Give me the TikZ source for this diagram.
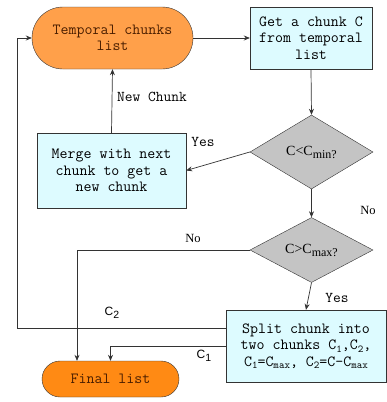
\documentclass[tikz,border=0pt]{standalone}
\usepackage{fontspec}
\newfontfamily\serifA{Liberation Serif}
\newfontfamily\sansA{Liberation Sans}
\usetikzlibrary{shapes.misc,shapes.geometric,arrows.meta}
\definecolor{orA}{HTML}{FFA04A}
\definecolor{orB}{HTML}{FF8A14}
\definecolor{cyanA}{HTML}{DDFBFF}
\definecolor{grayA}{HTML}{C4C4C4}
\definecolor{brownT}{HTML}{4A1E00}
\definecolor{lineC}{HTML}{333333}
\newcommand{\sbm}[1]{\raisebox{-2.5pt}{\fontsize{10.5}{10}\selectfont #1}}
\newcommand{\sbd}[1]{\raisebox{-3pt}{\fontsize{12}{10}\selectfont #1}}
\begin{document}
\begin{tikzpicture}[x=1pt,y=-1pt,
  every node/.style={font=\ttfamily\fontsize{15.5}{16.5}\selectfont, align=center, inner sep=0pt},
  term/.style={rounded rectangle, draw=lineC, text=brownT},
  procbox/.style={rectangle, draw=lineC, fill=cyanA},
  decis/.style={diamond, draw=lineC, fill=grayA, font=\serifA\fontsize{14}{15}\selectfont},
  conn/.style={draw=lineC, line width=0.7pt, -{Stealth[length=6pt,width=5pt]}},
  lbl/.style={font=\ttfamily\fontsize{15}{16}\selectfont}
]
\useasboundingbox (0,0) rectangle (387,402);
\fill[white] (0,0) rectangle (387,402);

\node[term, fill=orA, minimum width=161pt, minimum height=62pt] (temp) at (112.5,38) {Temporal chunks\\list};
\node[procbox, minimum width=122pt, minimum height=62pt] (get) at (311,38) {Get a chunk C\\from temporal\\list};
\node[decis, minimum width=123pt, minimum height=74pt] (d1) at (311.5,152) {C<C\sbd{min?}};
\node[procbox, minimum width=149pt, minimum height=75pt] (merge) at (111.5,170.5) {Merge with next\\chunk to get a\\new chunk};
\node[decis, minimum width=123pt, minimum height=64pt] (d2) at (311.5,250) {C>C\sbd{max?}};
\node[procbox, minimum width=160pt, minimum height=72pt] (split) at (306,346) {Split chunk into\\two chunks C\sbm{1},C\sbm{2},\\C\sbm{1}=C\sbm{max}, C\sbm{2}=C-C\sbm{max}};
\node[term, fill=orB, minimum width=137pt, minimum height=36pt] (final) at (110.5,379) {Final list};

\coordinate (lft) at (17,328);

\draw[conn] (temp.east) -- (get.west);
\draw[conn] (get.south) -- (d1.north);
\draw[conn] (d1.south) -- (d2.north);
\draw[conn] (d1.west) -- (merge.east);
\draw[conn] (merge.north) -- (temp.south);
\draw[conn] (d2.west) -| ([xshift=-33.5pt]final.north);
\draw[conn] (d2.south) -- (split.north);
\draw[conn] ([yshift=18pt]split.west) -- (lft) |- (temp.west);
\draw[conn] (split.west) -| (final.north);

\node[lbl, anchor=west] (lnew) at (117,97) {New Chunk};
\node[lbl] (lyes1) at (203,142) {Yes};
\node[lbl, font=\serifA\fontsize{12.5}{14}\selectfont] (lno1) at (368,210) {No};
\node[lbl, font=\serifA\fontsize{12.5}{14}\selectfont] (lno2) at (193,238) {No};
\node[lbl] (lyes2) at (337,298) {Yes};
\node[lbl, font=\sansA\fontsize{12}{14}\selectfont] (lc2) at (112,313) {C\sbm{2}};
\node[lbl, font=\sansA\fontsize{12}{14}\selectfont] (lc1) at (204,356) {C\sbm{1}};
\end{tikzpicture}
\end{document}
